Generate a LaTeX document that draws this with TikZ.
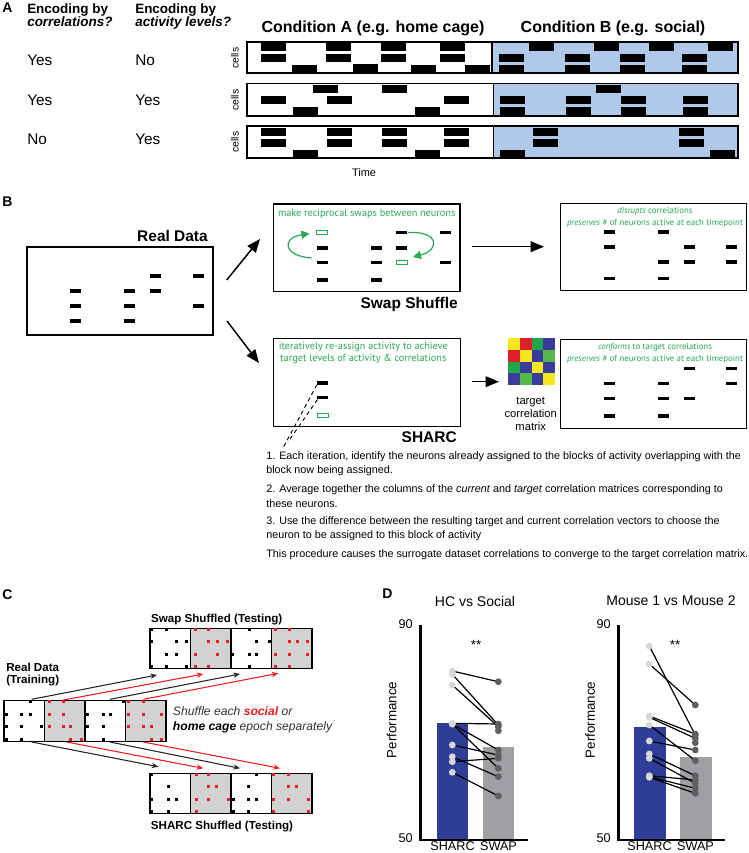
\documentclass[tikz,border=0pt]{standalone}
\usepackage{fontspec}
\setmainfont{Liberation Sans}
\newfontfamily\grn{PT Sans}
\usetikzlibrary{arrows.meta}
\definecolor{condB}{RGB}{176,201,232}
\definecolor{sgreen}{RGB}{40,170,80}
\definecolor{mYel}{RGB}{245,230,30}
\definecolor{mRed}{RGB}{222,30,40}
\definecolor{mGrn}{RGB}{30,168,75}
\definecolor{mGrnL}{RGB}{85,185,75}
\definecolor{mBlu}{RGB}{58,60,155}
\definecolor{sharcblue}{RGB}{46,62,152}
\definecolor{swapgrey}{RGB}{160,160,164}
\definecolor{ptlight}{RGB}{215,215,215}
\definecolor{ptdark}{RGB}{95,95,95}
\definecolor{epgrey}{RGB}{210,210,210}
\definecolor{cred}{RGB}{235,30,35}
\definecolor{txtgrey}{RGB}{50,50,50}
\newcommand{\fsz}[1]{\fontsize{#1pt}{#1pt}\selectfont}
\newcommand{\rbar}[2]{\foreach \xx in {#2} {\fill (\xx,#1) rectangle ++(25,7.7);}}
\newcommand{\dsh}[2]{\fill ({#1-5.5},{#2-1.8}) rectangle ++(11,3.6);}
\newcommand{\gdsh}[2]{\draw[sgreen,line width=0.7pt] ({#1-5.5},{#2-1.8}) rectangle ++(11,3.6);}
\newcommand{\epoch}[5]{%
  \draw[line width=0.9pt, fill=#3] (#1,#2) rectangle ++(40.5,40.5);
  \foreach \dx/\dy in {#5} {\fill[#4] ({#1+\dx-1.5},{#2+\dy-1.5}) rectangle ++(3,3);}}
\tikzset{
  plabel/.style={font=\bfseries\fsz{10.5}, inner sep=0pt},
  hdr/.style={font=\bfseries\fsz{10.1}, anchor=west, inner sep=0pt, align=left},
  yn/.style={font=\fsz{11.5}, anchor=west, inner sep=0pt},
  celllbl/.style={font=\fsz{7.8}, rotate=90, inner sep=0pt},
  condlbl/.style={font=\bfseries\fsz{12}, inner sep=0pt},
  boxlbl/.style={font=\bfseries\fsz{11.6}, inner sep=0pt},
  boxframe/.style={draw, line width=1.1pt},
  bigarrow/.style={line width=1.1pt, -{Triangle[length=10pt,width=8pt]}},
  garrow/.style={sgreen, line width=0.9pt, -{Triangle[length=6pt,width=6pt]}},
  gtxt/.style={sgreen, font=\grn\fsz{7.7}, inner sep=0pt},
  gtxtr/.style={sgreen, font=\grn\fsz{6.6}, inner sep=0pt},
  numtxt/.style={font=\fsz{8.1}, anchor=west, inner sep=0pt},
  ctxt/.style={font=\bfseries\fsz{8.7}, inner sep=0pt},
  carrowk/.style={line width=0.8pt, black!85, -{Stealth[length=5pt,width=4pt]}},
  carrowr/.style={line width=0.8pt, cred, -{Stealth[length=5pt,width=4pt]}},
  daxis/.style={line width=2.2pt},
  dtxt/.style={font=\fsz{9.5}, inner sep=0pt},
  pline/.style={line width=0.9pt},
}
\begin{document}
\begin{tikzpicture}[x=0.75pt,y=-0.75pt]
\useasboundingbox (0,0) rectangle (749,853);
\fill[white] (0,0) rectangle (749,853);

% ================= Panel A =================
\node[plabel, anchor=north west] (labA) at (2,3) {A};
\node[hdr, anchor=north west] (hc1) at (27,3) {Encoding by\\\itshape correlations?};
\node[hdr, anchor=north west] (hc2) at (135,3) {Encoding by\\\itshape activity levels?};
\node[yn] (y11) at (27,60) {Yes};
\node[yn] (y12) at (135,60) {No};
\node[yn] (y21) at (27,100) {Yes};
\node[yn] (y22) at (135,100) {Yes};
\node[yn] (y31) at (27,139) {No};
\node[yn] (y32) at (135,139) {Yes};
\node[celllbl] (c1) at (235,58) {cells};
\node[celllbl] (c2) at (235,100) {cells};
\node[celllbl] (c3) at (235,142) {cells};
\node[condlbl] (condA) at (373,28) {Condition A (e.g. home cage)};
\node[condlbl] (condBl) at (613,28) {Condition B (e.g. social)};
\node[font=\fsz{8.2}, inner sep=0pt] (time) at (364,173) {Time};

% raster 1
\fill[condB] (492,42) rectangle (738,73);
\rbar{43.3}{260.7,326,380.7,440}
\rbar{54.3}{260.7,326,380.7,440}
\rbar{65.3}{291.7,410.7,465.3}
\rbar{64.3}{352.7}
\rbar{43.3}{528.7,594.3,649,708.3}
\rbar{54.3}{499.3,565.3,620,682.3}
\rbar{65.3}{499.3,565.3,620,682.3}
\draw[line width=0.8pt] (247,42) rectangle (738,73);
\draw[line width=0.8pt] (492,42) -- (492,73);
% raster 2
\fill[condB] (493.3,83.3) rectangle (738,116);
\rbar{85.3}{312.7,381.7}
\rbar{96.3}{261,327.3,444}
\rbar{107.3}{292.7,415}
\rbar{85.3}{596}
\rbar{96.3}{500,566.3,621,683.3}
\rbar{107.3}{500,566.3,621,683.3}
\draw[line width=0.8pt] (247,83.3) rectangle (738,116);
\draw[line width=0.8pt] (493.3,83.3) -- (493.3,116);
% raster 3
\fill[condB] (493.3,126) rectangle (738,158);
\rbar{128}{261,327.3,381.7,444}
\rbar{139}{261,327.3,381.7,444}
\rbar{150}{292.7,415}
\rbar{128}{533.3,679.3}
\rbar{139}{533.3,679.3}
\rbar{150}{500,710}
\draw[line width=0.8pt] (247,126) rectangle (738,158);
\draw[line width=0.8pt] (493.3,126) -- (493.3,158);

% ================= Panel B =================
\node[plabel, anchor=north west] (labB) at (2,197) {B};
\node[boxlbl, anchor=east] (rdl) at (208,236) {Real Data};
\draw[boxframe] (27,247) rectangle (213,335);
\dsh{75}{290.7}\dsh{75}{305.7}\dsh{75}{320.7}
\dsh{129.3}{290.7}\dsh{129.3}{305.7}\dsh{129.3}{320.7}
\dsh{155}{275.7}\dsh{155}{290.7}
\dsh{198.3}{275.7}\dsh{198.3}{305.7}

\coordinate (u1) at (226.7,280);
\coordinate (u2) at (260,239);
\coordinate (d1) at (227,321);
\coordinate (d2) at (259,363);
\draw[bigarrow] (u1) -- (u2);
\draw[bigarrow] (d1) -- (d2);

% swap shuffle box
\draw[boxframe] (273.3,204) rectangle (460,291.7);
\node[gtxt] (swt) at (366.7,214) {make reciprocal swaps between neurons};
\gdsh{322.3}{232.3}
\dsh{322.3}{247.7}\dsh{322.3}{262.3}\dsh{322.3}{280}
\dsh{376.7}{247.7}\dsh{376.7}{262.3}\dsh{376.7}{280}
\dsh{401.7}{232.3}\dsh{401.7}{247.7}
\gdsh{401.7}{262.3}
\dsh{445}{232.3}\dsh{445}{262.3}
\coordinate (ga1) at (311.5,258);
\coordinate (ga2) at (309.5,233.5);
\draw[garrow] (ga1) .. controls (283,256) and (281,238) .. (ga2);
\coordinate (gb1) at (408,232.5);
\coordinate (gb2) at (413,257);
\draw[garrow] (gb1) .. controls (440,231) and (440,250) .. (gb2);
\node[boxlbl, anchor=east] (swl) at (458,304) {Swap Shuffle};

\coordinate (s1) at (471.7,246.7);
\coordinate (s2) at (544,246.7);
\draw[bigarrow] (s1) -- (s2);

% disrupts box
\draw[boxframe] (560.7,203.3) rectangle (746.7,290.7);
\node[gtxtr] (dis1) at (655,211.7) {\itshape disrupts\upshape{} correlations};
\node[gtxtr] (dis2) at (655,223.3) {\itshape preserves\upshape{} \# of neurons active at each timepoint};
\dsh{609.3}{231.7}\dsh{609.3}{246.7}\dsh{609.3}{278.3}
\dsh{663.3}{231.7}\dsh{663.3}{261.7}\dsh{663.3}{278.3}
\dsh{689.3}{246.7}\dsh{689.3}{261.7}
\dsh{731.7}{246.7}\dsh{731.7}{261.7}

% SHARC box
\draw[boxframe] (273.3,338.3) rectangle (460.7,426.7);
\node[gtxt] (sh1) at (363.3,347.3) {iteratively re-assign activity to achieve};
\node[gtxt] (sh2) at (363.3,358.7) {target levels of activity \& correlations};
\dsh{322.7}{382.7}\dsh{322.7}{397.3}
\gdsh{322.7}{415.7}
\coordinate (dl1) at (316.8,384.8);
\coordinate (dl2) at (283.5,447);
\coordinate (dl3) at (317.5,399.5);
\coordinate (dl4) at (288,442);
\draw[dash pattern=on 3pt off 2.5pt, line width=0.7pt] (dl1) -- (dl2);
\draw[dash pattern=on 3pt off 2.5pt, line width=0.7pt] (dl3) -- (dl4);
\node[boxlbl, anchor=east] (shl) at (457,437.3) {SHARC};

\coordinate (m1) at (471.7,381.7);
\coordinate (m2) at (499,381.7);
\draw[bigarrow] (m1) -- (m2);

% matrix
\foreach \c [count=\i from 0] in {mYel,mRed,mGrn,mBlu, mRed,mYel,mBlu,mGrnL, mGrn,mBlu,mYel,mBlu, mBlu,mGrnL,mBlu,mYel} {
  \pgfmathtruncatemacro{\col}{mod(\i,4)}
  \pgfmathtruncatemacro{\row}{floor(\i/4)}
  \fill[\c] ({508.3+11.7*\col},{338.3+11.7*\row}) rectangle ++(11.7,11.7);
}
\node[font=\fsz{8.4}, align=center, inner sep=0pt] (tcm) at (530.7,413.7) {target\\[1.2pt]correlation\\[1.2pt]matrix};

% conforms box
\draw[boxframe] (560.7,339.3) rectangle (746.7,428.3);
\node[gtxtr] (cf1) at (655,347.3) {\itshape conforms\upshape{} to target correlations};
\node[gtxtr] (cf2) at (655,359) {\itshape preserves\upshape{} \# of neurons active at each timepoint};
\dsh{609.3}{383.3}\dsh{609.3}{398.3}\dsh{609.3}{416}
\dsh{663.3}{383.3}\dsh{663.3}{398.3}\dsh{663.3}{416}
\dsh{689.3}{368.3}\dsh{689.3}{398.3}
\dsh{731.7}{368.3}\dsh{731.7}{383.3}

% numbered text
\node[numtxt] (n1a) at (266,456.7) {1. Each iteration, identify the neurons already assigned to the blocks of activity overlapping with the};
\node[numtxt] (n1b) at (266,470.7) {block now being assigned.};
\node[numtxt] (n2a) at (266,490) {2. Average together the columns of the \textit{current} and \textit{target} correlation matrices corresponding to};
\node[numtxt] (n2b) at (266,503.3) {these neurons.};
\node[numtxt] (n3a) at (266,521.7) {3. Use the difference between the resulting target and current correlation vectors to choose the};
\node[numtxt] (n3b) at (266,535.7) {neuron to be assigned to this block of activity};
\node[numtxt] (n4) at (266,554.3) {This procedure causes the surrogate dataset correlations to converge to the target correlation matrix.};

% ================= Panel C =================
\node[plabel, anchor=north west] (labC) at (2,589) {C};
\node[ctxt] (swt2) at (216.7,620) {Swap Shuffled (Testing)};
\node[ctxt, anchor=west, align=left] (rdt) at (6,674.5) {Real Data\\[1pt](Training)};
\node[ctxt] (sht2) at (222,826.7) {SHARC Shuffled (Testing)};
\node[font=\itshape\fsz{9.1}, text=txtgrey, anchor=west, align=left, inner sep=0pt] (shuf) at (172.7,720)
  {Shuffle each \textbf{\textcolor{cred}{social}} or\\[2.2pt]\textbf{\textcolor{black}{home cage}} epoch separately};

% top strip
\epoch{150}{628.3}{white}{black}{1.7/1,16.7/1,1.7/13.3,26.7/13.3,36.7/13.3,16.7/25.7,26.7/25.7,1.7/38.3,16.7/38.3,36.7/38.3}
\epoch{190.5}{628.3}{epgrey}{cred}{5/1,18.3/1,18.3/13.3,26.7/13.3,36.7/13.3,5/25.7,26.7/25.7,5/38.3,18.3/38.3}
\epoch{231}{628.3}{white}{black}{18.3/1,25/13.3,38.3/13.3,1.7/25.7,18.3/25.7,25/25.7,18.3/38.3}
\epoch{271.5}{628.3}{epgrey}{cred}{4.3/1,17.7/1,17.7/13.3,26/13.3,36/13.3,4.3/25.7,17.7/25.7,36/25.7,4.3/38.3,17.7/38.3}
% middle strip
\epoch{4}{700.7}{white}{black}{26/1,2.7/13.3,17.7/13.3,26/13.3,2.7/25.7,17.7/25.7,37.7/25.7,2.7/38.3,17.7/38.3}
\epoch{44.5}{700.7}{epgrey}{cred}{5/1,19/1,5/13.3,19/13.3,5/25.7,19/25.7,26.3/25.7,26.3/38.3,37.3/38.3}
\epoch{85}{700.7}{white}{black}{38.3/1,2.3/13.3,18.3/13.3,25/13.3,2.3/25.7,18.3/25.7,18.3/38.3}
\epoch{125.5}{700.7}{epgrey}{cred}{2.7/1,17.7/1,2.7/13.3,17.7/13.3,36/13.3,2.7/25.7,17.7/25.7,26/25.7,26/38.3,36/38.3}
% bottom strip
\epoch{150}{773.3}{white}{black}{1.7/1,18.3/13.3,1.7/25.7,18.3/25.7,26.7/25.7,1.7/38.3,18.3/38.3}
\epoch{190.5}{773.3}{epgrey}{cred}{6/1,17.7/1,17.7/13.3,26/13.3,6/25.7,17.7/25.7,37.7/25.7,6/38.3}
\epoch{231}{773.3}{white}{black}{25.7/1,17.3/13.3,2.3/25.7,17.3/25.7,25.7/25.7,2.3/38.3,17.3/38.3}
\epoch{271.5}{773.3}{epgrey}{cred}{1.7/1,16.7/1,16.7/13.3,25/13.3,1.7/25.7,16.7/25.7,36.7/25.7,1.7/38.3,36.7/38.3}

% arrows panel C
\coordinate (cu1s) at (31.7,699.3);  \coordinate (cu1e) at (157,675);
\coordinate (cu2s) at (63.3,700);    \coordinate (cu2e) at (203.3,674);
\coordinate (cu3s) at (110,699.3);   \coordinate (cu3e) at (240,674);
\coordinate (cu4s) at (143.3,699.3); \coordinate (cu4e) at (278.3,673.3);
\coordinate (cd1s) at (31.7,742);    \coordinate (cd1e) at (158.3,766.7);
\coordinate (cd2s) at (66.7,742);    \coordinate (cd2e) at (203.3,768.3);
\coordinate (cd3s) at (110,742);     \coordinate (cd3e) at (240,768.3);
\coordinate (cd4s) at (143.3,742);   \coordinate (cd4e) at (280,768.3);
\draw[carrowk] (cu1s) -- (cu1e);
\draw[carrowr] (cu2s) -- (cu2e);
\draw[carrowk] (cu3s) -- (cu3e);
\draw[carrowr] (cu4s) -- (cu4e);
\draw[carrowk] (cd1s) -- (cd1e);
\draw[carrowr] (cd2s) -- (cd2e);
\draw[carrowk] (cd3s) -- (cd3e);
\draw[carrowr] (cd4s) -- (cd4e);

% ================= Panel D =================
\node[plabel, anchor=north west] (labD) at (382,589) {D};
\node[font=\fsz{10.5}, inner sep=0pt] (t1) at (475,601) {HC vs Social};
\node[font=\fsz{10.5}, inner sep=0pt] (t2) at (671,601) {Mouse 1 vs Mouse 2};

% left chart
\fill[sharcblue] (436.7,723.3) rectangle (468.3,840);
\fill[swapgrey] (482.7,746.7) rectangle (514.3,840);
\draw[daxis] (420.7,625) -- (420.7,840) -- (528.3,840);
\node[dtxt, anchor=east] (l90) at (413,624.5) {90};
\node[dtxt, anchor=east] (l50) at (413,838.5) {50};
\node[font=\fsz{10}, rotate=90, inner sep=0pt] (perf1) at (391.7,720) {Performance};
\node[font=\fsz{10}, inner sep=0pt] (st1) at (476,645) {**};
\node[dtxt] (shl1) at (452.5,846) {SHARC};
\node[dtxt] (swl1) at (498.5,846) {SWAP};
\foreach \a/\b in {671/681.7, 674.3/725, 685/726.7, 723.3/724, 724/750, 724/768.3, 745/755, 756.7/776.7, 761.7/758.3, 772.3/796} {
  \draw[pline] (452.3,\a) -- (498.3,\b);
}
\foreach \a/\b in {671/681.7, 674.3/725, 685/726.7, 723.3/724, 724/750, 724/768.3, 745/755, 756.7/776.7, 761.7/758.3, 772.3/796} {
  \fill[ptlight] (452.3,\a) circle (3.4);
  \fill[ptdark] (498.3,\b) circle (3.4);
}
\fill[ptdark] (498.3,730.7) circle (3.4);

% right chart
\fill[sharcblue] (634,726.7) rectangle (665.7,840);
\fill[swapgrey] (680,756.7) rectangle (711.7,840);
\draw[daxis] (618.3,625) -- (618.3,840) -- (725,840);
\node[dtxt, anchor=east] (r90) at (611,624.5) {90};
\node[dtxt, anchor=east] (r50) at (611,838.5) {50};
\node[font=\fsz{10}, rotate=90, inner sep=0pt] (perf2) at (590,720) {Performance};
\node[font=\fsz{10}, inner sep=0pt] (st2) at (675,645) {**};
\node[dtxt] (shl2) at (649.5,846) {SHARC};
\node[dtxt] (swl2) at (695.5,846) {SWAP};
\foreach \a/\b in {646/735, 664/705, 716/734, 717.3/738.3, 725/760.7, 741/750, 754/775.7, 758.3/783.3, 775.7/780, 776.7/788.3, 777.3/793.3} {
  \draw[pline] (649.3,\a) -- (695.3,\b);
}
\foreach \a/\b in {646/735, 664/705, 716/734, 717.3/738.3, 725/760.7, 741/750, 754/775.7, 758.3/783.3, 775.7/780, 776.7/788.3, 777.3/793.3} {
  \fill[ptlight] (649.3,\a) circle (3.4);
  \fill[ptdark] (695.3,\b) circle (3.4);
}
\fill[ptdark] (695.3,742.7) circle (3.4);
\end{tikzpicture}
\end{document}
